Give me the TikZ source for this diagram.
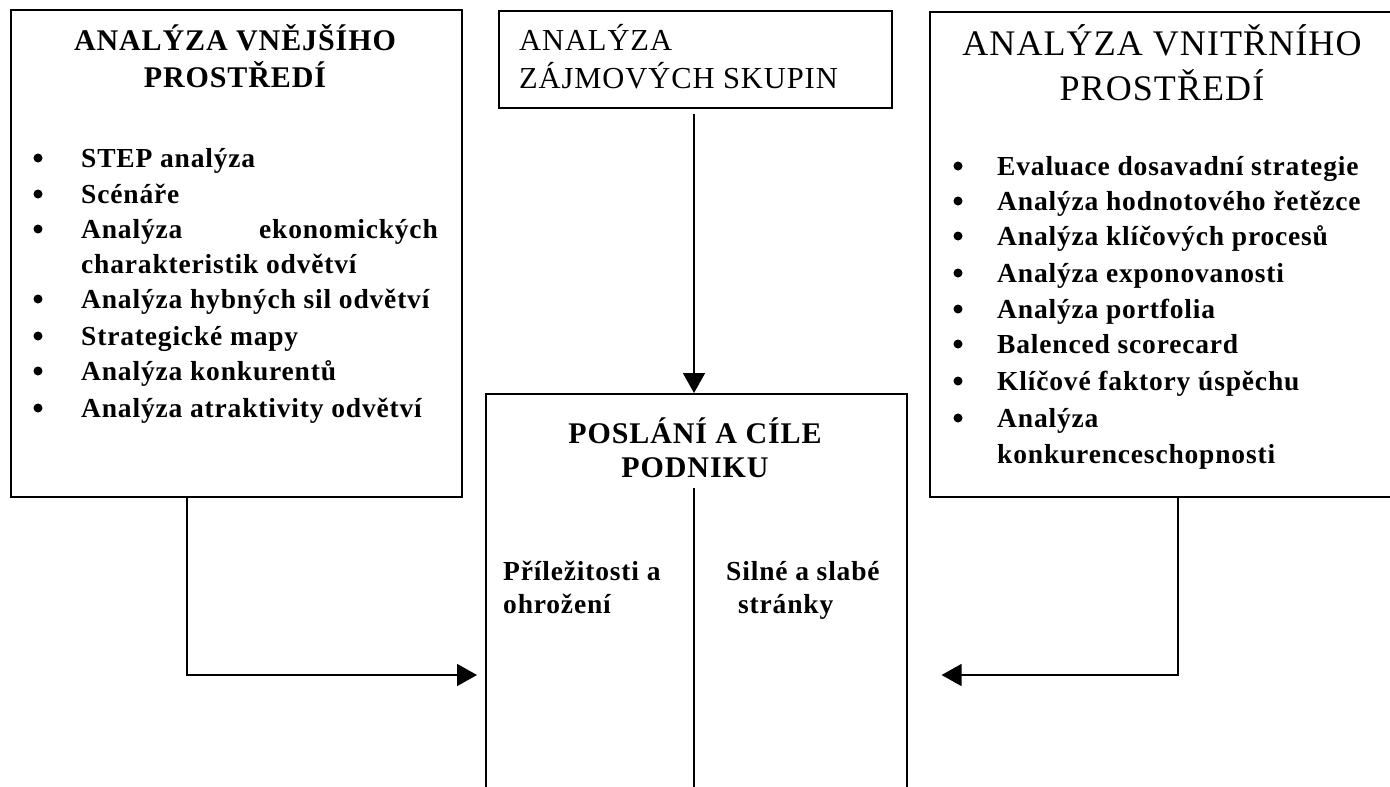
\documentclass[tikz,border=0pt]{standalone}
\usepackage{fontspec}
\setmainfont{Liberation Serif}[LetterSpace=3]
\usetikzlibrary{arrows.meta}
\tikzset{
  box/.style={draw, line width=1.6pt, rectangle, anchor=north west, inner sep=0pt},
  conn/.style={line width=1.6pt},
  arr/.style={conn, -{Triangle[width=22pt,length=20pt]}},
  lt/.style={inner sep=0pt, anchor=base west},
  ct/.style={inner sep=0pt, anchor=base},
  rt/.style={inner sep=0pt, anchor=base east},
  dot/.style={circle, fill, inner sep=0pt, minimum size=9pt},
  ltitle/.style={font=\fontsize{30}{36}\selectfont\bfseries},
  ctitle/.style={font=\fontsize{30}{36}\selectfont\bfseries},
  bigreg/.style={font=\fontsize{36}{42}\selectfont},
  midreg/.style={font=\fontsize{30.5}{36}\selectfont},
  item/.style={font=\fontsize{27.5}{32}\selectfont\bfseries},
  swot/.style={font=\fontsize{27.5}{32}\selectfont\bfseries},
}
\begin{document}
\begin{tikzpicture}[x=1pt,y=-1pt]
\useasboundingbox (0,0) rectangle (1390,787);
\clip (0,0) rectangle (1390,787);

% boxes
\node[box, minimum width=451pt, minimum height=487pt] (ext) at (10,9) {};
\node[box, minimum width=393pt, minimum height=97pt] (zaj) at (498,10) {};
\node[box, minimum width=520pt, minimum height=485pt] (int) at (929,11) {};
\node[box, minimum width=421pt, minimum height=460pt] (mise) at (485,393) {};

% left box text
\node[ct, ltitle] (et1) at (235,50) {ANALÝZA VNĚJŠÍHO};
\node[ct, ltitle] (et2) at (235,87) {PROSTŘEDÍ};
\node[dot] (eb1) at (38,158) {};
\node[lt, item] (ei1) at (81,167) {STEP analýza};
\node[dot] (eb2) at (38,194) {};
\node[lt, item] (ei2) at (81,203) {Scénáře};
\node[dot] (eb3) at (38,229) {};
\node[lt, item] (ei3a) at (81,238) {Analýza};
\node[rt, item] (ei3b) at (438,238) {ekonomických};
\node[lt, item] (ei3c) at (81,273) {charakteristik odvětví};
\node[dot] (eb4) at (38,299) {};
\node[lt, item] (ei4) at (81,308) {Analýza hybných sil odvětví};
\node[dot] (eb5) at (38,336) {};
\node[lt, item] (ei5) at (81,345) {Strategické mapy};
\node[dot] (eb6) at (38,371) {};
\node[lt, item] (ei6) at (81,380) {Analýza konkurentů};
\node[dot] (eb7) at (38,408) {};
\node[lt, item] (ei7) at (81,417) {Analýza atraktivity odvětví};

% middle top box text
\node[lt, midreg] (zt1) at (519,50) {ANALÝZA};
\node[lt, midreg] (zt2) at (519,88) {ZÁJMOVÝCH SKUPIN};

% right box text
\node[ct, bigreg] (it1) at (1162,55) {ANALÝZA VNITŘNÍHO};
\node[ct, bigreg] (it2) at (1162,100) {PROSTŘEDÍ};
\node[dot] (ib1) at (958,166) {};
\node[lt, item] (ii1) at (997,175) {Evaluace dosavadní strategie};
\node[dot] (ib2) at (958,201) {};
\node[lt, item] (ii2) at (997,210) {Analýza hodnotového řetězce};
\node[dot] (ib3) at (958,236) {};
\node[lt, item] (ii3) at (997,245) {Analýza klíčových procesů};
\node[dot] (ib4) at (958,273) {};
\node[lt, item] (ii4) at (997,282) {Analýza exponovanosti};
\node[dot] (ib5) at (958,309) {};
\node[lt, item] (ii5) at (997,318) {Analýza portfolia};
\node[dot] (ib6) at (958,344) {};
\node[lt, item] (ii6) at (997,353) {Balenced scorecard};
\node[dot] (ib7) at (958,381) {};
\node[lt, item] (ii7) at (997,390) {Klíčové faktory úspěchu};
\node[dot] (ib8) at (958,418) {};
\node[lt, item] (ii8a) at (997,427) {Analýza};
\node[lt, item] (ii8b) at (997,463) {konkurenceschopnosti};

% centre box text
\node[ct, ctitle] (mt1) at (695,443) {POSLÁNÍ A CÍLE};
\node[ct, ctitle] (mt2) at (695,477) {PODNIKU};
\node[lt, swot] (po1) at (503,580) {Příležitosti a};
\node[lt, swot] (po2) at (503,613) {ohrožení};
\node[lt, swot] (ss1) at (726,580) {Silné a slabé};
\node[lt, swot] (ss2) at (738,613) {stránky};

% divider in centre box
\coordinate (divtop) at (694,488);
\draw[conn] (divtop) -- (divtop |- mise.south);

% connectors
\coordinate (lev) at (0,675);
\draw[arr, shorten <=5pt] (divtop |- zaj.south) -- (divtop |- mise.north);
\draw[arr, shorten >=8pt] ([xshift=177pt]ext.south west) |- (mise.west |- lev);
\draw[arr, shorten >=34pt] ([xshift=249pt]int.south west) |- (mise.east |- lev);
\end{tikzpicture}
\end{document}
